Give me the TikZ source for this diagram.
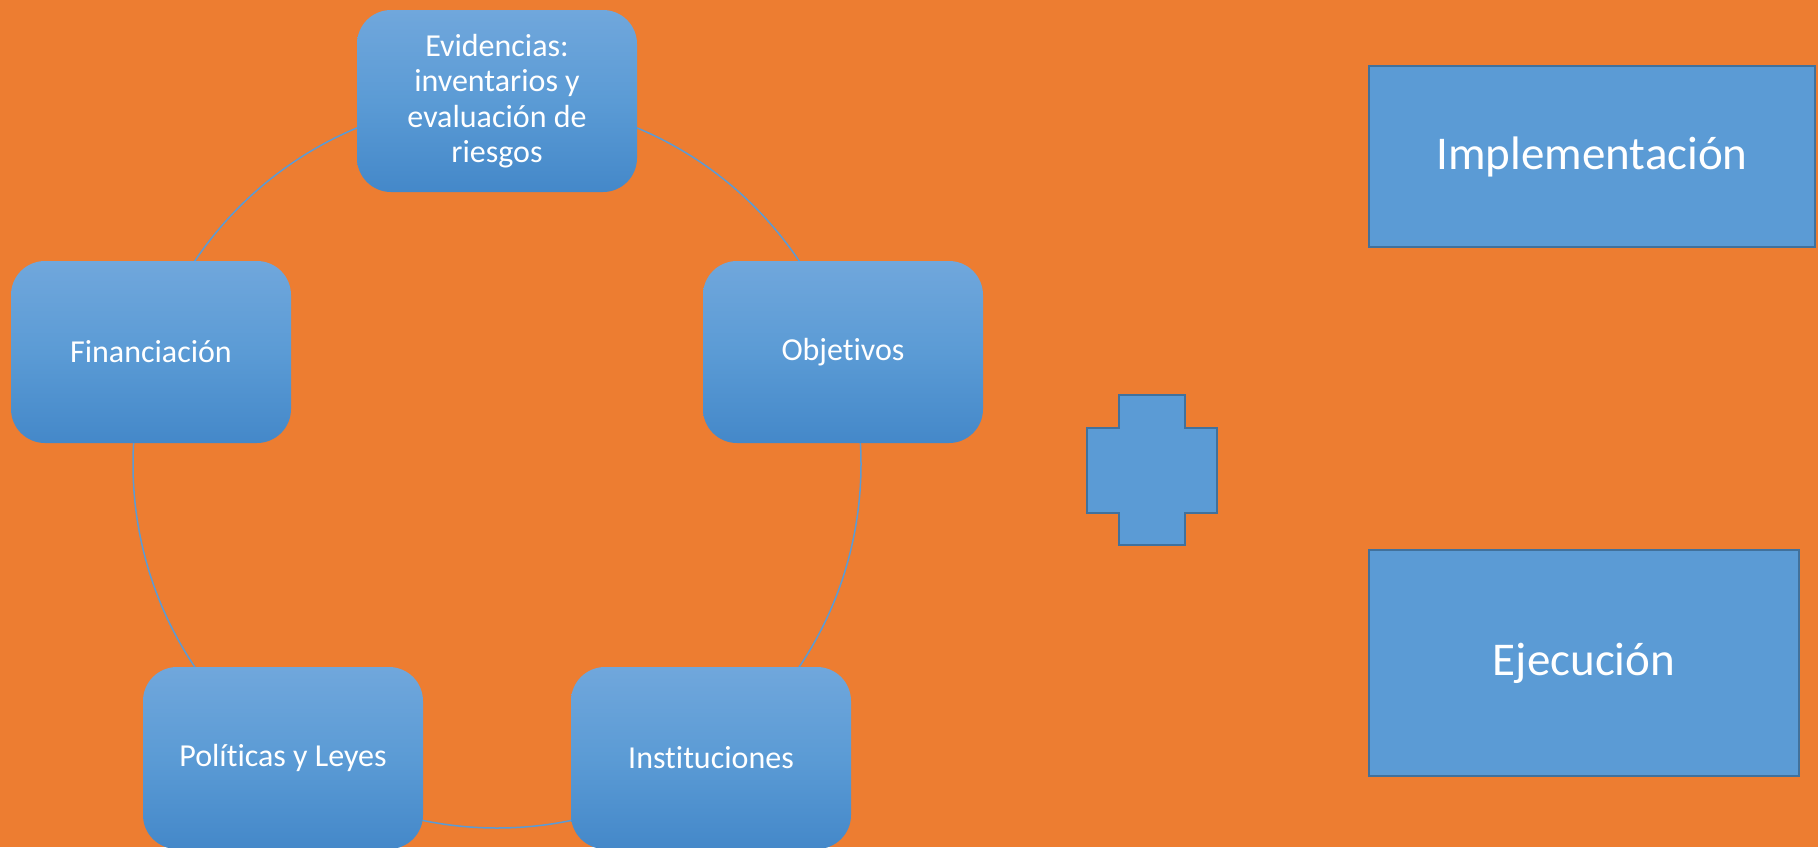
\documentclass[tikz,border=0pt]{standalone}
\usepackage{fontspec}
\setmainfont[Ligatures=NoCommon]{Carlito}
\definecolor{bg}{HTML}{ED7D31}
\definecolor{blu}{HTML}{5B9BD5}
\definecolor{bluedge}{HTML}{41719C}
\definecolor{gtop}{HTML}{70A7DC}
\definecolor{gbot}{HTML}{4488C9}
\begin{document}
\begin{tikzpicture}[x=1pt,y=-1pt,
  cyclebox/.style={rounded corners=34pt, minimum width=280pt, minimum height=182pt,
    inner sep=0pt, top color=gtop, bottom color=gbot, middle color=blu,
    text=white, align=center, font=\fontsize{32}{39}\selectfont},
  sqbox/.style={draw=bluedge, line width=2.5pt, fill=blu, text=white,
    inner sep=0pt, font=\fontsize{47}{57}\selectfont},
  ring/.style={draw=blu, line width=1.5pt},
  plusshape/.style={draw=bluedge, line width=2.5pt, fill=blu}]
  \fill[bg] (0,0) rectangle (1818,847);
  \useasboundingbox (0,0) rectangle (1818,847);

  \coordinate (c) at (497,464);
  \draw[ring] (c) circle[radius=364pt];

  \node[cyclebox, font=\fontsize{32}{35.5}\selectfont] (evid) at (497,101)
    {Evidencias:\\inventarios y\\evaluación de\\riesgos};
  \node[cyclebox] (obj) at (843,352) {Objetivos};
  \node[cyclebox] (inst) at (711,758) {Instituciones};
  \node[cyclebox] (pol) at (283,758) {Políticas y Leyes};
  \node[cyclebox] (fin) at (151,352) {Financiación};

  \draw[plusshape] (1119,395) -- (1185,395) -- (1185,428) -- (1217,428)
    -- (1217,513) -- (1185,513) -- (1185,545) -- (1119,545) -- (1119,513)
    -- (1087,513) -- (1087,428) -- (1119,428) -- cycle;

  \node[sqbox, minimum width=446pt, minimum height=181pt] (impl) at (1592,156.5) {Implementación};
  \node[sqbox, minimum width=430pt, minimum height=226pt] (ejec) at (1584,663) {Ejecución};
\end{tikzpicture}
\end{document}
